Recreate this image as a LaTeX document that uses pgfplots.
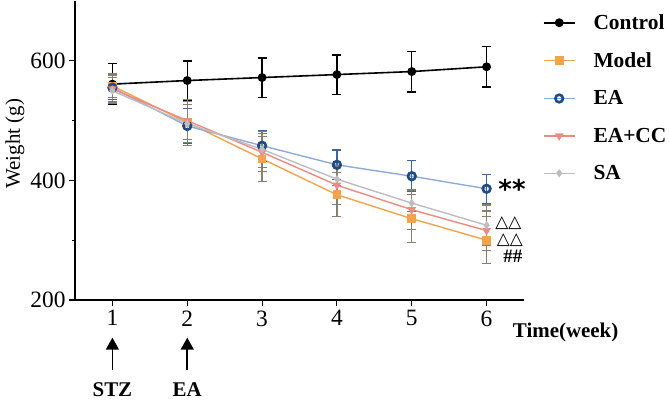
\documentclass[border=0pt]{standalone}
\usepackage{pgfplots}
\pgfplotsset{compat=1.18}
\usepackage{fontspec}
\setmainfont{Liberation Serif}
\newfontfamily\dejavu{DejaVu Sans}
\usetikzlibrary{arrows.meta}
\definecolor{cModel}{HTML}{F2A44C}
\definecolor{cEAline}{HTML}{8EAADB}
\definecolor{cEAmark}{HTML}{1F4A86}
\definecolor{cEAerr}{HTML}{3E64A0}
\definecolor{cCC}{HTML}{EE8A82}
\definecolor{cSA}{HTML}{BDBDBD}
\definecolor{cErr}{HTML}{8A7E6E}
\begin{document}
\begin{tikzpicture}[x=1bp,y=1bp]
\useasboundingbox (0,0) rectangle (669,401);
\begin{axis}[
  at={(75bp,101bp)}, anchor=south west,
  scale only axis, width=449bp, height=299bp,
  xmin=0.5, xmax=6.5, ymin=200, ymax=700,
  axis lines=left, axis line style={-, line width=1.3bp},
  xtick={1,2,3,4,5,6}, ytick={200,400,600},
  minor ytick={300,500},
  tick align=outside,
  major tick length=6bp, minor tick length=3bp,
  tick style={line width=1.1bp, black},
  /pgf/number format/assume math mode=true,
  ticklabel style={font=\fontsize{23.5}{26}\selectfont},
  xticklabel style={yshift=-1bp},
  ylabel={Weight (g)},
  ylabel style={font=\fontsize{21}{24}\selectfont, at={(axis description cs:-0.134,0.523)}, anchor=center},
  clip=false,
  legend cell align=left,
  legend style={draw=none, fill=none, at={(1.035,0.962)}, anchor=north west,
    font=\bfseries\fontsize{21.5}{24}\selectfont, row sep=21.7bp,
    nodes={inner xsep=1bp, inner ysep=0bp}},
  legend image code/.code={\draw[mark repeat=2,mark phase=2,#1] plot coordinates {(0bp,0bp) (15.5bp,0bp) (31bp,0bp)}; \path (48bp,0bp);},
  error bars/y dir=both, error bars/y explicit,
]
% Control
\addplot[black, line width=1.6bp, mark=*, mark size=3.6bp,
  error bars/error bar style={black, line width=1.4bp},
  error bars/error mark options={rotate=90, mark size=4.5bp, line width=1.4bp, black}]
  coordinates {(1,561) +- (0,34) (2,567) +- (0,33) (3,572) +- (0,33) (4,577) +- (0,33) (5,582) +- (0,34) (6,590) +- (0,34)};
\addlegendentry{Control}
% Model
\addplot[cModel, line width=1.4bp, mark=square*, mark size=3.6bp, mark options={fill=cModel, draw=cModel},
  error bars/error bar style={cErr, line width=1.2bp},
  error bars/error mark options={rotate=90, mark size=4.5bp, line width=1.2bp, cErr}]
  coordinates {(1,558) +- (0,20) (2,497) +- (0,38) (3,436) +- (0,38) (4,376) +- (0,37) (5,336) +- (0,40) (6,300) +- (0,39)};
\addlegendentry{Model}
% EA
\addplot[cEAline, line width=1.4bp, mark=o, mark size=3.8bp, mark options={draw=cEAmark, fill=white, line width=2.6bp},
  error bars/error bar style={cEAerr, line width=1.2bp},
  error bars/error mark options={rotate=90, mark size=4.5bp, line width=1.2bp, cEAerr}]
  coordinates {(1,555) +- (0,20) (2,491) +- (0,29) (3,458) +- (0,26) (4,426) +- (0,25) (5,407) +- (0,26) (6,386) +- (0,24)};
\addlegendentry{EA}
% EA+CC
\addplot[cCC, line width=1.4bp, mark=triangle*, mark size=3.6bp, mark options={rotate=180, fill=cCC, draw=cCC},
  error bars/error bar style={cErr, line width=1.2bp},
  error bars/error mark options={rotate=90, mark size=4.5bp, line width=1.2bp, cErr}]
  coordinates {(1,553) +- (0,22) (2,500) +- (0,32) (3,447) +- (0,32) (4,392) +- (0,32) (5,351) +- (0,33) (6,316) +- (0,33)};
\addlegendentry{EA+CC}
% SA
\addplot[cSA, line width=1.4bp, mark=diamond*, mark size=3bp, mark options={fill=cSA, draw=cSA},
  error bars/error bar style={cErr, line width=1.2bp},
  error bars/error mark options={rotate=90, mark size=4.5bp, line width=1.2bp, cErr}]
  coordinates {(1,550) +- (0,22) (2,495) +- (0,32) (3,452) +- (0,30) (4,402) +- (0,11) (5,362) +- (0,14) (6,325) +- (0,34)};
\addlegendentry{SA}
% annotations
\node[anchor=center, font=\dejavu\bfseries\fontsize{26}{26}\selectfont] at (axis cs:6.34,385) {**};
\node[anchor=center, font=\dejavu\fontsize{17}{17}\selectfont, inner sep=0pt] at (axis cs:6.29,329) {△△};
\node[anchor=center, font=\dejavu\fontsize{17}{17}\selectfont, inner sep=0pt] at (axis cs:6.31,301) {△△};
\node[anchor=center, font=\bfseries\fontsize{19}{19}\selectfont, inner sep=0pt] at (axis cs:6.35,273) {\#\#};
\node[anchor=base west, font=\bfseries\fontsize{21}{24}\selectfont, inner sep=0pt] at (axis cs:6.35,138) {Time(week)};
\draw[-{Triangle[width=13bp,length=12bp]}, line width=1.6bp] (axis cs:1,83) -- (axis cs:1,137);
\draw[-{Triangle[width=13bp,length=12bp]}, line width=1.6bp] (axis cs:2,83) -- (axis cs:2,137);
\node[anchor=base, font=\bfseries\fontsize{21}{24}\selectfont, inner sep=0pt] at (axis cs:1,38) {STZ};
\node[anchor=base, font=\bfseries\fontsize{21}{24}\selectfont, inner sep=0pt] at (axis cs:2,38) {EA};
\end{axis}
\end{tikzpicture}
\end{document}
